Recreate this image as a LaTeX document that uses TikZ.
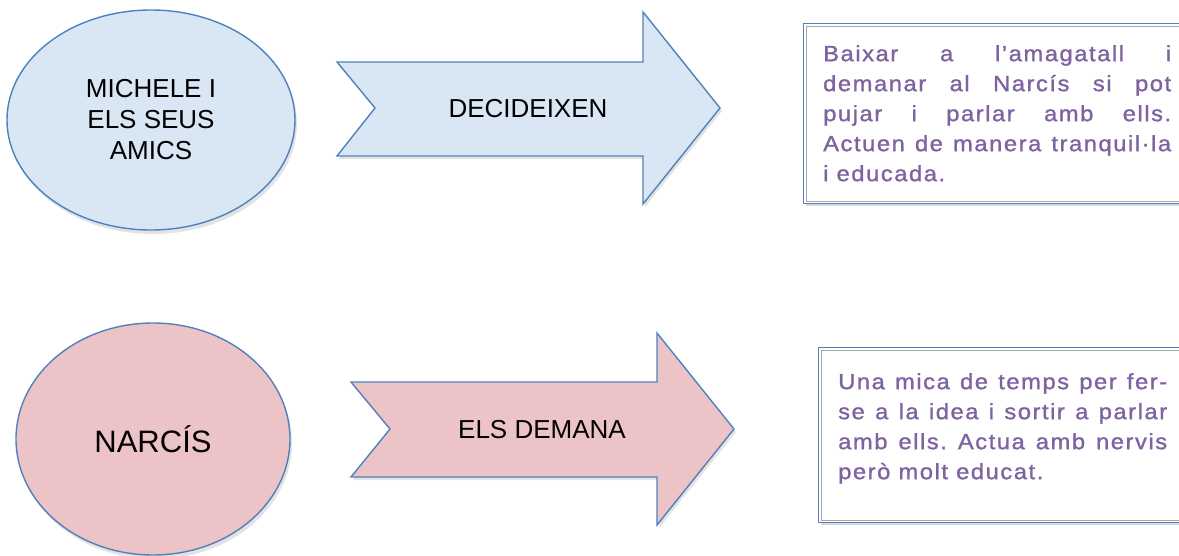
\documentclass[tikz,border=0pt]{standalone}
\usepackage{fontspec}
\setmainfont{Liberation Sans}
\newfontfamily\notefont[LetterSpace=7, FakeStretch=1.08, FakeBold=1.2]{Liberation Sans}
\usetikzlibrary{
  shapes.geometric,
  shadows,
  calc,
  positioning
}

\definecolor{frameblue}{HTML}{4F81BD}
\definecolor{skyfill}{HTML}{D9E6F4}
\definecolor{rosefill}{HTML}{ECC3C6}
\definecolor{notepurple}{HTML}{7F63A1}

\begin{document}
\begin{tikzpicture}[x=1pt, y=-1pt,
    blob/.style = {ellipse, draw=frameblue, line width=1.4pt, inner sep=0pt, align=center,
      drop shadow={shadow xshift=2pt, shadow yshift=-4pt, fill=black!22}},
    bigarrow/.style = {draw=frameblue, line width=1.4pt, line join=miter,
      drop shadow={shadow xshift=2pt, shadow yshift=-3pt, fill=black!22}},
    tag/.style = {font=\fontsize{26}{31}\selectfont, inner sep=0pt},
    framebox/.style = {draw=frameblue, line width=1pt, fill=white, inner sep=0pt, anchor=north west,
      drop shadow={shadow xshift=2pt, shadow yshift=-2pt, fill=black!30}},
    note/.style = {text=notepurple, align=justify, inner sep=0pt, anchor=north west,
      font={\notefont\fontsize{22}{30}\selectfont\frenchspacing\tolerance=10000\hyphenpenalty=10000}}
  ]
    \useasboundingbox (0,0) rectangle (1179,555);

    % characters
    \node[blob, fill=skyfill, minimum width=288, minimum height=220, tag] (michele) at (151,120) {MICHELE I\\ELS SEUS\\AMICS};
    \node[blob, fill=rosefill, minimum width=274, minimum height=232, tag, font=\fontsize{31}{37}\selectfont] (narcis) at (153,439) {NARCÍS};

    % block arrows
    \draw[bigarrow, fill=skyfill] (337,62) -- (643,62) -- (643,12) -- (720,108) -- (643,204) -- (643,156) -- (337,156) -- (375,108) -- cycle;
    \node[tag] (decideixen) at (528,109) {DECIDEIXEN};
    \draw[bigarrow, fill=rosefill] (351,382) -- (657,382) -- (657,333) -- (734,429) -- (657,525) -- (657,477) -- (351,477) -- (390,429) -- cycle;
    \node[tag] (demana) at (542,430) {ELS DEMANA};

    % text boxes
    \node[framebox, minimum width=382, minimum height=180] (frame1) at (803,23) {};
    \draw[black!35, line width=1pt] ($(frame1.north west)+(3,3)$) rectangle ($(frame1.south east)+(-3,-3)$);
    \node[note, text width=348] (plan1) at ($(frame1.north west)+(20,22)$) {Baixar a l’amagatall i\linebreak demanar al Narcís si pot\linebreak pujar i parlar amb ells.\linebreak Actuen de manera tranquil·la\linebreak i educada.};

    \node[framebox, minimum width=367, minimum height=175] (frame2) at (818,347) {};
    \draw[black!35, line width=1pt] ($(frame2.north west)+(3,3)$) rectangle ($(frame2.south east)+(-3,-3)$);
    \node[note, text width=329] (plan2) at ($(frame2.north west)+(20,26)$) {Una mica de temps per fer-\linebreak se a la idea i sortir a parlar\linebreak amb ells. Actua amb nervis\linebreak però molt educat.};
\end{tikzpicture}
\end{document}
